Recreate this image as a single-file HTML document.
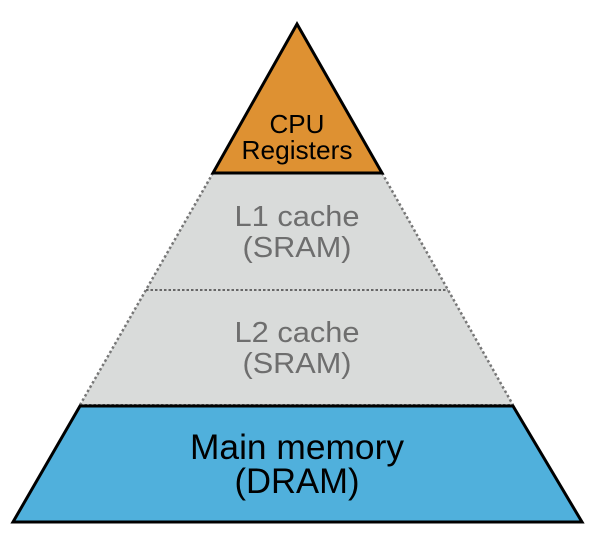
<!DOCTYPE html>
<html><head><style>html,body{margin:0;padding:0;background:#fff}svg{display:block}</style></head>
<body>
<svg width="598" height="554" viewBox="0 0 598 554" xmlns="http://www.w3.org/2000/svg" font-family="Liberation Sans, sans-serif">
<polygon points="213,173 382,173 513,405 80,405" fill="#d9dbda"/>
<polyline points="213,173 80,405" fill="none" stroke="#777" stroke-width="2.5" stroke-dasharray="2.5,2.5"/>
<polyline points="382,173 513,405" fill="none" stroke="#777" stroke-width="2.5" stroke-dasharray="2.5,2.5"/>
<line x1="146" y1="290" x2="448" y2="290" stroke="#666" stroke-width="2" stroke-dasharray="2.5,2"/>
<line x1="80" y1="405" x2="513" y2="405" stroke="#666" stroke-width="2" stroke-dasharray="2.5,2"/>
<polygon points="297,24 382,173 213,173" fill="#de9132" stroke="#000" stroke-width="3" stroke-linejoin="miter"/>
<polygon points="80,406 513,406 582,522 13,522" fill="#50b0dc" stroke="#000" stroke-width="3"/>
<g text-anchor="middle">
<text x="297" y="133" font-size="26" textLength="55" lengthAdjust="spacingAndGlyphs">CPU</text>
<text x="297" y="159" font-size="26" textLength="111" lengthAdjust="spacingAndGlyphs">Registers</text>
<g fill="#6e6e6e">
<text x="297" y="226" font-size="29" textLength="125" lengthAdjust="spacingAndGlyphs">L1 cache</text>
<text x="297" y="257" font-size="29" textLength="109" lengthAdjust="spacingAndGlyphs">(SRAM)</text>
<text x="297" y="342" font-size="29" textLength="125" lengthAdjust="spacingAndGlyphs">L2 cache</text>
<text x="297" y="373" font-size="29" textLength="109" lengthAdjust="spacingAndGlyphs">(SRAM)</text>
</g>
<text x="297" y="459" font-size="35" textLength="214" lengthAdjust="spacingAndGlyphs">Main memory</text>
<text x="297" y="493" font-size="35" textLength="125" lengthAdjust="spacingAndGlyphs">(DRAM)</text>
</g>
</svg>
</body></html>
